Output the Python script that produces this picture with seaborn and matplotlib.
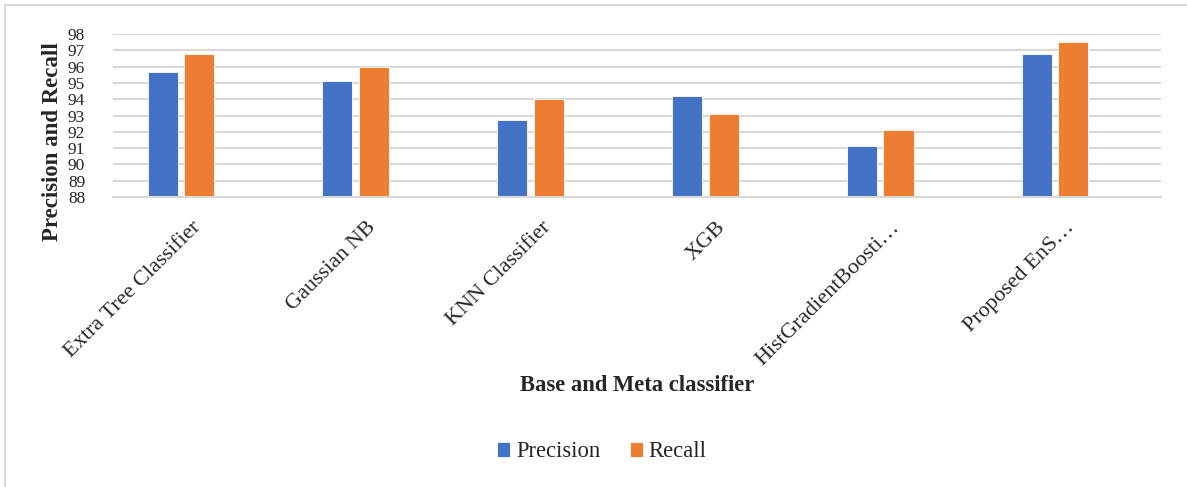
import matplotlib
matplotlib.use("Agg")
import matplotlib.pyplot as plt
import matplotlib.transforms as mtransforms
from matplotlib.patches import Rectangle
import seaborn as sns
import pandas as pd

categories = ["Extra Tree Classifier", "Gaussian NB", "KNN Classifier", "XGB",
              "HistGradientBoosti\u2026", "Proposed EnS\u2026"]
precision = [95.7, 95.1, 92.7, 94.2, 91.15, 96.75]
recall = [96.75, 96.0, 94.0, 93.1, 92.1, 97.5]
series_names = ["Precision", "Recall"]
colors = ["#4472C4", "#ED7D31"]
yticks = list(range(88, 99))

df = pd.DataFrame({
    "Classifier": categories * 2,
    "Value": precision + recall,
    "Metric": [series_names[0]] * len(categories) + [series_names[1]] * len(categories),
})

sns.set_theme(style="white")
plt.rcParams["font.family"] = ["Liberation Serif", "DejaVu Serif"]

fig = plt.figure(figsize=(11.87, 4.87), dpi=100)
ax = fig.add_axes([0.0952, 0.5955, 0.8828, 0.3345])

sns.barplot(data=df, x="Classifier", y="Value", hue="Metric", order=categories,
            hue_order=series_names, palette=colors, width=0.42, gap=0.18,
            saturation=1, ax=ax, legend=True, edgecolor="white", linewidth=0.6)

ax.set_ylim(88, 98)
ax.set_yticks(yticks)
ax.set_yticklabels([str(t) for t in yticks], fontsize=12.5)
ax.set_xlim(-0.389, 5.606)
ax.grid(axis="y", color="#d9d9d9", linewidth=1.5)
ax.set_axisbelow(True)
for s in ["top", "right", "left"]:
    ax.spines[s].set_visible(False)
ax.spines["bottom"].set_color("#d9d9d9")
ax.spines["bottom"].set_linewidth(1.5)
ax.tick_params(axis="both", length=0, pad=2)
ax.tick_params(axis="y", pad=20)

ax.set_xticks(range(len(categories)))
ax.set_xticklabels(categories, rotation=45, ha="right", va="center",
                   rotation_mode="anchor", fontsize=16)
offset = mtransforms.ScaledTranslation(0.17, -0.25, fig.dpi_scale_trans)
for lbl in ax.get_xticklabels():
    lbl.set_transform(lbl.get_transform() + offset)

ax.set_xlabel("")
ax.set_ylabel("")
fig.text(0.044, 0.710, "Precision and Recall", rotation=90, ha="center", va="center",
         fontsize=16.5, fontweight="bold")
fig.text(0.537, 0.209, "Base and Meta classifier", ha="center", va="center",
         fontsize=16.3, fontweight="bold")

handles, labels = ax.get_legend_handles_labels()
ax.get_legend().remove()
fig.legend(handles, labels, loc="center", bbox_to_anchor=(0.507, 0.072), ncol=2,
           frameon=False, fontsize=16.3, handlelength=0.6, handleheight=0.6,
           handletextpad=0.25, columnspacing=1.3)

fig.patches.append(Rectangle((5 / 1187, -0.1), 1.2, 1 - 5 / 487 + 0.1,
                             transform=fig.transFigure, fill=False,
                             edgecolor="#d9d9d9", linewidth=1.5))

fig.savefig("out.png", dpi=100)
